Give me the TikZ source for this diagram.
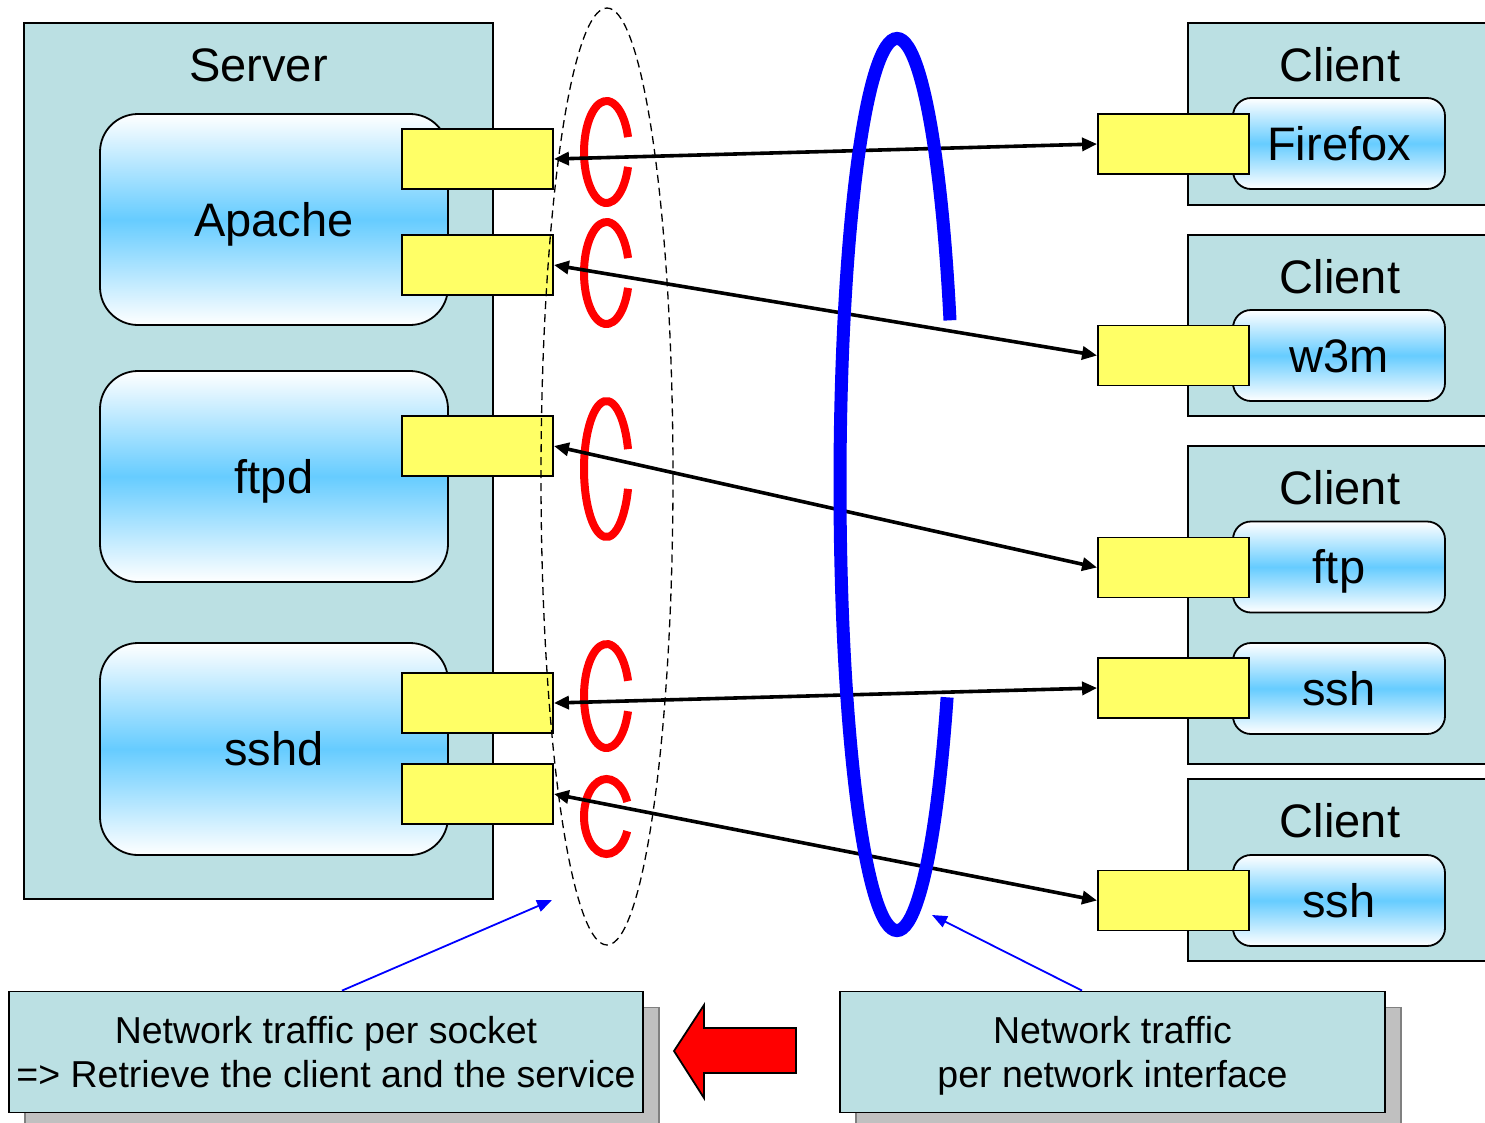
\documentclass[tikz,border=0pt]{standalone}
\usepackage{fontspec}
\setmainfont{Liberation Sans}
\usetikzlibrary{arrows.meta,shadows}
\definecolor{hostteal}{RGB}{187,224,227}
\definecolor{procblue}{RGB}{102,204,255}
\definecolor{sockyellow}{RGB}{255,255,102}
\definecolor{shadowgray}{RGB}{192,192,192}
\newcommand{\bigtext}{\fontsize{47}{54}\selectfont}
\newcommand{\notetext}{\fontsize{37.5}{44}\selectfont}
\begin{document}
\begin{tikzpicture}[x=1pt,y=-1pt,
  host/.style={shape=rectangle,draw,line width=1.8pt,fill=hostteal},
  proc/.style={shape=rectangle,draw,line width=1.8pt,top color=white,bottom color=white,middle color=procblue,font=\bigtext,text height=33.7pt,text depth=0pt},
  sock/.style={shape=rectangle,draw,line width=1.8pt,fill=sockyellow,minimum width=151pt,minimum height=60pt},
  hosttitle/.style={font=\bigtext,anchor=base},
  link/.style={<->,line width=3.6pt},
  hint/.style={-{Triangle[length=15pt,width=12pt]},blue,line width=1.8pt},
  ring/.style={red,line width=8pt},
  note/.style={shape=rectangle,draw,line width=1.8pt,fill=hostteal,font=\notetext,align=center,text depth=0pt,
    general shadow={fill=shadowgray,draw=gray,shadow xshift=16pt,shadow yshift=-16pt}},
  >={Triangle[length=15pt,width=13pt]}]
\useasboundingbox (0,0) rectangle (1485,1122);
\clip (0,0) rectangle (1485,1122);
\node (server) at (258.5,461) [host,minimum width=469pt,minimum height=876pt]{};
\node (servername) at (258.5,81) [hosttitle]{Server};
\node (apache) at (274,219.5) [proc,rounded corners=38pt,minimum width=348pt,minimum height=211pt]{Apache};
\node (ftpd) at (274,476.5) [proc,rounded corners=38pt,minimum width=348pt,minimum height=211pt]{ftpd};
\node (sshd) at (274,749) [proc,rounded corners=38pt,minimum width=348pt,minimum height=212pt]{sshd};
\node (sa1) at (477.5,159) [sock]{};
\node (sa2) at (477.5,265) [sock]{};
\node (sf) at (477.5,446) [sock]{};
\node (ss1) at (477.5,703) [sock]{};
\node (ss2) at (477.5,794) [sock]{};
\node (client1) at (1340,114) [host,minimum width=304pt,minimum height=182pt]{};
\node (client2) at (1340,325.5) [host,minimum width=304pt,minimum height=181pt]{};
\node (client3) at (1340,605) [host,minimum width=304pt,minimum height=318pt]{};
\node (client4) at (1340,870) [host,minimum width=304pt,minimum height=182pt]{};
\node (clientname1) at (1340,81) [hosttitle]{Client};
\node (clientname2) at (1340,293) [hosttitle]{Client};
\node (clientname3) at (1340,504) [hosttitle]{Client};
\node (clientname4) at (1340,837) [hosttitle]{Client};
\node (firefox) at (1339,143.5) [proc,rounded corners=18pt,minimum width=212pt,minimum height=91pt]{Firefox};
\node (w3m) at (1339,355.5) [proc,rounded corners=18pt,minimum width=212pt,minimum height=91pt]{w3m};
\node (ftp) at (1339,567) [proc,rounded corners=18pt,minimum width=212pt,minimum height=91pt]{ftp};
\node (ssh1) at (1339,688.5) [proc,rounded corners=18pt,minimum width=212pt,minimum height=91pt]{ssh};
\node (ssh2) at (1339,900.5) [proc,rounded corners=18pt,minimum width=212pt,minimum height=91pt]{ssh};
\node (cf) at (1173.5,144) [sock]{};
\node (cw) at (1173.5,355.5) [sock]{};
\node (cft) at (1173.5,567.5) [sock]{};
\node (cs1) at (1173.5,688) [sock]{};
\node (cs2) at (1173.5,900.5) [sock]{};
\draw[line width=1.3pt,dash pattern=on 8pt off 5pt] (607,476.5) ellipse [x radius=66,y radius=468.5];
\draw[ring] (606.5,152) ++(17:22.5 and 51) arc[start angle=17,end angle=343,x radius=22.5,y radius=51];
\draw[ring] (606.5,273) ++(17:22.5 and 51) arc[start angle=17,end angle=343,x radius=22.5,y radius=51];
\draw[ring] (606.5,469) ++(17:22.5 and 68) arc[start angle=17,end angle=343,x radius=22.5,y radius=68];
\draw[ring] (606.5,696) ++(17:22.5 and 52) arc[start angle=17,end angle=343,x radius=22.5,y radius=52];
\draw[ring] (606.5,816.5) ++(23:22.5 and 37.5) arc[start angle=23,end angle=337,x radius=22.5,y radius=37.5];
\draw[link] (sa1.east) -- (cf.west);
\draw[link] (sa2.east) -- (cw.west);
\draw[link] (sf.east) -- (cft.west);
\draw[link] (ss1.east) -- (cs1.west);
\draw[link] (ss2.east) -- (cs2.west);
\draw[blue,line width=13pt] (897,484.5) ++(28.5:57 and 446) arc[start angle=28.5,end angle=338.4,x radius=57,y radius=446];
\node (socknote) at (326,1052) [note,minimum width=634pt,minimum height=121pt]{Network traffic per socket\\=> Retrieve the client and the service};
\node (ifnote) at (1112.5,1052) [note,minimum width=545pt,minimum height=121pt]{Network traffic\\per network interface};
\coordinate (sockarea) at (552,900);
\coordinate (ifarea) at (932,915);
\draw[hint] ([xshift=16pt]socknote.north) -- (sockarea);
\draw[hint] ([xshift=-30.5pt]ifnote.north) -- (ifarea);
\draw[fill=red,line width=1.8pt] (674,1051) -- (704,1005) -- (704,1028) -- (796,1028) -- (796,1073) -- (704,1073) -- (704,1098) -- cycle;
\end{tikzpicture}
\end{document}
